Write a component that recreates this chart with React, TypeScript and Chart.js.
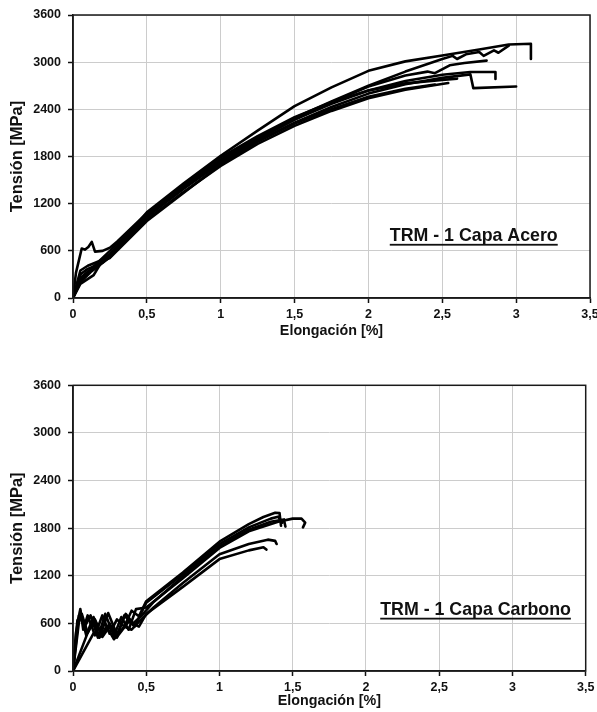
import React, { useEffect, useRef } from 'react';
import { Chart, registerables } from 'chart.js';

Chart.register(...registerables);

type Pt = [number, number];

const FONT = "'Liberation Sans', Arial, sans-serif";
const X_TICKS = [0, 0.5, 1, 1.5, 2, 2.5, 3, 3.5];
const Y_TICKS = [0, 600, 1200, 1800, 2400, 3000, 3600];
const X_TITLE = 'Elongación [%]';
const Y_TITLE = 'Tensión [MPa]';

// ---- TRM - 1 Capa Acero (elongation %, stress MPa)
const acero1: Pt[] = [[0, 0], [0.03, 150], [0.08, 300], [0.15, 420], [0.25, 600], [0.4, 870], [0.5, 1090], [0.75, 1460], [1, 1810], [1.25, 2130], [1.5, 2440], [1.75, 2680], [2, 2890], [2.25, 3010], [2.5, 3085], [2.75, 3160], [2.95, 3225], [3.1, 3235], [3.1, 3040]];
const acero2: Pt[] = [[0, 0], [0.05, 300], [0.1, 370], [0.2, 450], [0.25, 540], [0.5, 1060], [0.75, 1420], [1, 1760], [1.25, 2040], [1.5, 2290], [1.75, 2500], [2, 2700], [2.25, 2880], [2.5, 3040], [2.57, 3080], [2.6, 3040], [2.66, 3100], [2.75, 3130], [2.78, 3080], [2.85, 3150], [2.88, 3120], [2.95, 3210]];
const acero3: Pt[] = [[0, 0], [0.05, 250], [0.12, 360], [0.25, 520], [0.5, 1040], [0.75, 1400], [1, 1740], [1.25, 2020], [1.5, 2270], [1.75, 2490], [2, 2690], [2.25, 2830], [2.4, 2880], [2.45, 2860], [2.55, 2960], [2.65, 2990], [2.8, 3020]];
const acero4: Pt[] = [[0, 0], [0.05, 350], [0.1, 410], [0.18, 470], [0.25, 560], [0.5, 1030], [0.75, 1390], [1, 1720], [1.25, 2000], [1.5, 2230], [1.75, 2430], [2, 2600], [2.25, 2720], [2.5, 2800], [2.69, 2845], [2.71, 2670], [3.0, 2690]];
const acero5: Pt[] = [[0, 0], [0.05, 200], [0.12, 330], [0.25, 520], [0.5, 1050], [0.75, 1410], [1, 1750], [1.25, 2030], [1.5, 2270], [1.75, 2470], [2, 2640], [2.25, 2760], [2.5, 2840], [2.69, 2875], [2.86, 2875], [2.86, 2785]];
const acero6: Pt[] = [[0, 0], [0.05, 260], [0.15, 380], [0.25, 530], [0.5, 1000], [0.75, 1350], [1, 1680], [1.25, 1960], [1.5, 2190], [1.75, 2380], [2, 2540], [2.25, 2650], [2.54, 2735]];
const acero7: Pt[] = [[0, 0], [0.02, 320], [0.059, 630], [0.08, 615], [0.104, 650], [0.127, 714], [0.149, 590], [0.2, 600], [0.25, 640], [0.3, 720], [0.5, 1080], [0.75, 1440], [1, 1790], [1.25, 2060], [1.5, 2300], [1.75, 2490], [2, 2640], [2.25, 2730], [2.5, 2775], [2.6, 2790]];
const acero8: Pt[] = [[0, 0], [0.05, 180], [0.14, 290], [0.2, 480], [0.25, 510], [0.5, 980], [0.75, 1340], [1, 1700], [1.25, 1990], [1.5, 2220], [1.75, 2400], [2, 2560], [2.25, 2660], [2.45, 2715]];

// ---- TRM - 1 Capa Carbono
const carbono1: Pt[] = [[0, 0], [0.02, 480], [0.05, 780], [0.07, 520], [0.1, 700], [0.15, 450], [0.2, 700], [0.25, 470], [0.3, 650], [0.35, 560], [0.4, 760], [0.45, 690], [0.5, 880], [0.75, 1240], [1, 1630], [1.2, 1850], [1.3, 1940], [1.38, 1995], [1.41, 1990], [1.42, 1830]];
const carbono2: Pt[] = [[0, 0], [0.03, 640], [0.06, 720], [0.1, 480], [0.15, 650], [0.2, 440], [0.25, 600], [0.3, 420], [0.35, 700], [0.42, 560], [0.5, 860], [0.75, 1220], [1, 1600], [1.2, 1810], [1.35, 1920], [1.4, 1945], [1.43, 1870]];
const carbono3: Pt[] = [[0, 0], [0.04, 700], [0.08, 560], [0.12, 700], [0.17, 420], [0.22, 720], [0.28, 440], [0.33, 680], [0.38, 520], [0.43, 780], [0.5, 800], [0.75, 1170], [1, 1550], [1.2, 1760], [1.4, 1880], [1.5, 1920], [1.56, 1920], [1.585, 1870], [1.57, 1810]];
const carbono4: Pt[] = [[0, 0], [0.05, 760], [0.09, 450], [0.14, 680], [0.19, 470], [0.24, 730], [0.3, 460], [0.36, 720], [0.41, 600], [0.47, 700], [0.55, 870], [0.75, 1190], [1, 1570], [1.2, 1780], [1.35, 1880], [1.44, 1910], [1.45, 1820]];
const carbono5: Pt[] = [[0, 0], [0.1, 480], [0.14, 640], [0.18, 420], [0.23, 560], [0.28, 400], [0.35, 560], [0.4, 520], [0.45, 620], [0.55, 800], [0.75, 1110], [1, 1470], [1.2, 1600], [1.33, 1655], [1.38, 1640], [1.39, 1600]];
const carbono6: Pt[] = [[0, 0], [0.14, 475], [0.2, 430], [0.25, 560], [0.3, 430], [0.38, 620], [0.45, 560], [0.5, 720], [0.75, 1060], [1, 1410], [1.2, 1520], [1.3, 1560], [1.32, 1530]];

const ACERO_CURVES = [acero1, acero2, acero3, acero4, acero5, acero6, acero7, acero8];
const CARBONO_CURVES = [carbono1, carbono2, carbono3, carbono4, carbono5, carbono6];

const ACERO_LABEL = { text: 'TRM - 1 Capa Acero', x: 2.713, y: 727 };
const CARBONO_LABEL = { text: 'TRM - 1 Capa Carbono', x: 2.748, y: 709 };

const fmt = (v: number) => String(v).replace('.', ',');

const framePlugin = {
  id: 'frame',
  afterDraw(chart: any) {
    const { ctx, chartArea: a } = chart;
    ctx.save();
    ctx.strokeStyle = '#1a1a1a';
    ctx.lineWidth = 1.5;
    ctx.strokeRect(a.left, a.top, a.right - a.left, a.bottom - a.top);
    ctx.restore();
  },
};

const makeLabelPlugin = (label: { text: string; x: number; y: number }) => ({
  id: 'panelLabel',
  afterDraw(chart: any) {
    const { ctx } = chart;
    const px = chart.scales.x.getPixelForValue(label.x);
    const py = chart.scales.y.getPixelForValue(label.y);
    ctx.save();
    ctx.font = `bold 17.8px ${FONT}`;
    ctx.fillStyle = '#111';
    ctx.textAlign = 'center';
    ctx.textBaseline = 'alphabetic';
    ctx.fillText(label.text, px, py);
    const w = ctx.measureText(label.text).width;
    ctx.fillRect(px - w / 2, py + 3, w, 1.8);
    ctx.restore();
  },
});

interface PanelProps {
  curves: Pt[][];
  label: { text: string; x: number; y: number };
  top: number;
  height: number;
  padTop: number;
  padRight: number;
  axisH: number;
  titlePadBottom: number;
}

function Panel({ curves, label, top, height, padTop, padRight, axisH, titlePadBottom }: PanelProps) {
  const ref = useRef<HTMLCanvasElement>(null);
  useEffect(() => {
    const chart = new Chart(ref.current as HTMLCanvasElement, {
      type: 'line',
      data: {
        datasets: curves.map((c, i) => ({
          label: 'probeta ' + (i + 1),
          data: c.map(([x, y]) => ({ x, y })),
          borderColor: '#000',
          borderWidth: 2.6,
          pointRadius: 0,
          tension: 0,
          fill: false,
          borderJoinStyle: 'round',
          borderCapStyle: 'round',
        })),
      },
      options: {
        animation: false,
        responsive: false,
        maintainAspectRatio: false,
        devicePixelRatio: 1,
        layout: { padding: { top: padTop, right: padRight, left: 0, bottom: 0 } },
        plugins: { legend: { display: false }, tooltip: { enabled: false } },
        scales: {
          x: {
            type: 'linear',
            min: 0,
            max: 3.5,
            afterBuildTicks: (s: any) => { s.ticks = X_TICKS.map((v) => ({ value: v })); },
            afterFit: (s: any) => { s.height = axisH; s.paddingLeft = 0; s.paddingRight = 0; },
            ticks: { callback: (v: any) => fmt(Number(v)), font: { size: 12.5, weight: 'bold', family: FONT }, color: '#111', padding: 4, maxRotation: 0 },
            grid: { color: '#cccccc', lineWidth: 1, tickColor: '#111', tickLength: 5, tickWidth: 1.5 },
            border: { display: true, color: '#1a1a1a', width: 1.5 },
            title: { display: true, text: X_TITLE, font: { size: 14.3, weight: 'bold', family: FONT }, color: '#111', padding: { top: 0, bottom: titlePadBottom } },
          },
          y: {
            type: 'linear',
            min: 0,
            max: 3600,
            afterBuildTicks: (s: any) => { s.ticks = Y_TICKS.map((v) => ({ value: v })); },
            afterFit: (s: any) => { s.width = 73; s.paddingTop = 0; s.paddingBottom = 0; },
            ticks: { callback: (v: any) => String(v), font: { size: 12.5, weight: 'bold', family: FONT }, color: '#111', padding: 7 },
            grid: { color: '#cccccc', lineWidth: 1, tickColor: '#111', tickLength: 5, tickWidth: 1.5 },
            border: { display: true, color: '#1a1a1a', width: 1.5 },
            title: { display: true, text: Y_TITLE, font: { size: 16.5, weight: 'bold', family: FONT }, color: '#111', padding: { top: 7.6, bottom: 0 } },
          },
        },
      } as any,
      plugins: [framePlugin, makeLabelPlugin(label)],
    });
    return () => chart.destroy();
  }, []);
  return (
    <canvas
      ref={ref}
      width={597}
      height={height}
      style={{ position: 'absolute', left: 0, top, width: 597, height }}
    />
  );
}

export default function App() {
  return (
    <div style={{ position: 'absolute', left: 0, top: 0, width: 597, height: 712, background: '#fff' }}>
      <Panel curves={ACERO_CURVES} label={ACERO_LABEL} top={0} height={340} padTop={15} padRight={7} axisH={42} titlePadBottom={0.6} />
      <Panel curves={CARBONO_CURVES} label={CARBONO_LABEL} top={358} height={354} padTop={27.3} padRight={11.3} axisH={41} titlePadBottom={2.1} />
    </div>
  );
}
